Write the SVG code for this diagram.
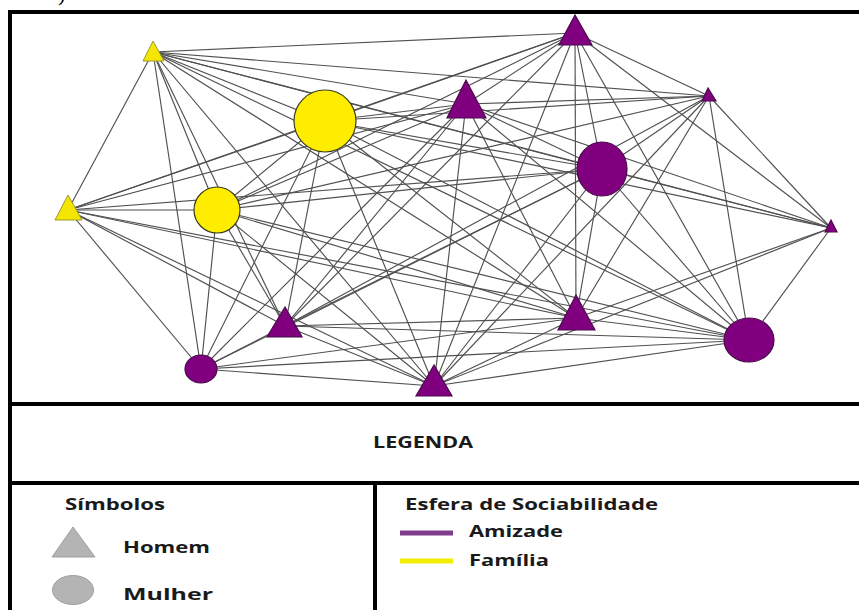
<svg xmlns="http://www.w3.org/2000/svg" width="859" height="610" viewBox="0 0 859 610">
<style>
.e{stroke:#505050;stroke-width:1.15;fill:none}
.y{fill:#ffed00;stroke:#3a3a20;stroke-width:1.2}
.yt{fill:#f4e600;stroke:#9a9a30;stroke-width:1}
.p{fill:#800080;stroke:#4a0a4a;stroke-width:1.2}
.fr{stroke:#000;stroke-width:4;fill:none}
.t{font-family:"Open Sans","Liberation Sans",sans-serif;font-weight:bold;font-size:16.5px;fill:#1a1a1a}
</style>
<rect width="859" height="610" fill="#fff"/>
<text x="58" y="1" font-family="Liberation Serif,serif" font-size="22" fill="#000">)</text>
<g id="frame">
<line class="fr" x1="10" y1="12" x2="859" y2="12"/>
<line class="fr" x1="10" y1="10" x2="10" y2="610"/>
<line class="fr" x1="8" y1="404" x2="859" y2="404"/>
<line class="fr" x1="8" y1="483" x2="859" y2="483"/>
<line class="fr" x1="375" y1="483" x2="375" y2="610"/>
</g>
<g id="connectors">
<line class="e" x1="153" y1="52" x2="68" y2="210"/>
<line class="e" x1="153" y1="52" x2="325" y2="121"/>
<line class="e" x1="153" y1="52" x2="217" y2="210"/>
<line class="e" x1="153" y1="52" x2="575" y2="33"/>
<line class="e" x1="153" y1="52" x2="466" y2="104"/>
<line class="e" x1="153" y1="52" x2="709" y2="96"/>
<line class="e" x1="153" y1="52" x2="602" y2="169"/>
<line class="e" x1="153" y1="52" x2="831" y2="228"/>
<line class="e" x1="153" y1="52" x2="285" y2="326"/>
<line class="e" x1="153" y1="52" x2="576" y2="318"/>
<line class="e" x1="153" y1="52" x2="749" y2="340"/>
<line class="e" x1="153" y1="52" x2="201" y2="369"/>
<line class="e" x1="153" y1="52" x2="434" y2="386"/>
<line class="e" x1="68" y1="210" x2="325" y2="121"/>
<line class="e" x1="68" y1="210" x2="217" y2="210"/>
<line class="e" x1="68" y1="210" x2="575" y2="33"/>
<line class="e" x1="68" y1="210" x2="466" y2="104"/>
<line class="e" x1="68" y1="210" x2="602" y2="169"/>
<line class="e" x1="68" y1="210" x2="285" y2="326"/>
<line class="e" x1="68" y1="210" x2="576" y2="318"/>
<line class="e" x1="68" y1="210" x2="749" y2="340"/>
<line class="e" x1="68" y1="210" x2="201" y2="369"/>
<line class="e" x1="68" y1="210" x2="434" y2="386"/>
<line class="e" x1="325" y1="121" x2="217" y2="210"/>
<line class="e" x1="325" y1="121" x2="575" y2="33"/>
<line class="e" x1="325" y1="121" x2="466" y2="104"/>
<line class="e" x1="325" y1="121" x2="709" y2="96"/>
<line class="e" x1="325" y1="121" x2="602" y2="169"/>
<line class="e" x1="325" y1="121" x2="831" y2="228"/>
<line class="e" x1="325" y1="121" x2="285" y2="326"/>
<line class="e" x1="325" y1="121" x2="576" y2="318"/>
<line class="e" x1="325" y1="121" x2="749" y2="340"/>
<line class="e" x1="325" y1="121" x2="201" y2="369"/>
<line class="e" x1="325" y1="121" x2="434" y2="386"/>
<line class="e" x1="217" y1="210" x2="575" y2="33"/>
<line class="e" x1="217" y1="210" x2="466" y2="104"/>
<line class="e" x1="217" y1="210" x2="709" y2="96"/>
<line class="e" x1="217" y1="210" x2="602" y2="169"/>
<line class="e" x1="217" y1="210" x2="285" y2="326"/>
<line class="e" x1="217" y1="210" x2="576" y2="318"/>
<line class="e" x1="217" y1="210" x2="749" y2="340"/>
<line class="e" x1="217" y1="210" x2="201" y2="369"/>
<line class="e" x1="217" y1="210" x2="434" y2="386"/>
<line class="e" x1="575" y1="33" x2="466" y2="104"/>
<line class="e" x1="575" y1="33" x2="709" y2="96"/>
<line class="e" x1="575" y1="33" x2="602" y2="169"/>
<line class="e" x1="575" y1="33" x2="831" y2="228"/>
<line class="e" x1="575" y1="33" x2="285" y2="326"/>
<line class="e" x1="575" y1="33" x2="576" y2="318"/>
<line class="e" x1="575" y1="33" x2="749" y2="340"/>
<line class="e" x1="575" y1="33" x2="434" y2="386"/>
<line class="e" x1="466" y1="104" x2="709" y2="96"/>
<line class="e" x1="466" y1="104" x2="602" y2="169"/>
<line class="e" x1="466" y1="104" x2="831" y2="228"/>
<line class="e" x1="466" y1="104" x2="285" y2="326"/>
<line class="e" x1="466" y1="104" x2="576" y2="318"/>
<line class="e" x1="466" y1="104" x2="749" y2="340"/>
<line class="e" x1="466" y1="104" x2="201" y2="369"/>
<line class="e" x1="466" y1="104" x2="434" y2="386"/>
<line class="e" x1="709" y1="96" x2="602" y2="169"/>
<line class="e" x1="709" y1="96" x2="831" y2="228"/>
<line class="e" x1="709" y1="96" x2="285" y2="326"/>
<line class="e" x1="709" y1="96" x2="576" y2="318"/>
<line class="e" x1="709" y1="96" x2="749" y2="340"/>
<line class="e" x1="709" y1="96" x2="434" y2="386"/>
<line class="e" x1="602" y1="169" x2="831" y2="228"/>
<line class="e" x1="602" y1="169" x2="285" y2="326"/>
<line class="e" x1="602" y1="169" x2="576" y2="318"/>
<line class="e" x1="602" y1="169" x2="749" y2="340"/>
<line class="e" x1="602" y1="169" x2="201" y2="369"/>
<line class="e" x1="602" y1="169" x2="434" y2="386"/>
<line class="e" x1="831" y1="228" x2="576" y2="318"/>
<line class="e" x1="831" y1="228" x2="749" y2="340"/>
<line class="e" x1="831" y1="228" x2="434" y2="386"/>
<line class="e" x1="285" y1="326" x2="576" y2="318"/>
<line class="e" x1="285" y1="326" x2="749" y2="340"/>
<line class="e" x1="285" y1="326" x2="201" y2="369"/>
<line class="e" x1="285" y1="326" x2="434" y2="386"/>
<line class="e" x1="576" y1="318" x2="749" y2="340"/>
<line class="e" x1="576" y1="318" x2="201" y2="369"/>
<line class="e" x1="576" y1="318" x2="434" y2="386"/>
<line class="e" x1="749" y1="340" x2="201" y2="369"/>
<line class="e" x1="749" y1="340" x2="434" y2="386"/>
<line class="e" x1="201" y1="369" x2="434" y2="386"/>
</g>
<g id="nA"><polygon class="yt" points="153,41 143,61 164,61"/></g>
<g id="nB"><polygon class="yt" points="68,195 55,220 82,220"/></g>
<g id="nC"><circle class="y" cx="325" cy="121" r="31"/></g>
<g id="nD"><circle class="y" cx="217" cy="210" r="23"/></g>
<g id="nE"><polygon class="p" points="575,15 559,45 592,45"/></g>
<g id="nF"><polygon class="p" points="466,80 447,118 486,118"/></g>
<g id="nG"><polygon class="p" points="708,88 702,101 716,101"/></g>
<g id="nH"><ellipse class="p" cx="602" cy="169" rx="25" ry="27"/></g>
<g id="nI"><polygon class="p" points="831,220 825,232 837,232"/></g>
<g id="nJ"><polygon class="p" points="285,307 267,337 302,337"/></g>
<g id="nK"><polygon class="p" points="576,295 558,330 595,330"/></g>
<g id="nL"><ellipse class="p" cx="749" cy="340" rx="25" ry="22"/></g>
<g id="nM"><ellipse class="p" cx="201" cy="369" rx="16" ry="14"/></g>
<g id="nN"><polygon class="p" points="434,365 416,396 452,396"/></g>
<g id="legend">
<text class="t" x="373" y="448" textLength="100" lengthAdjust="spacingAndGlyphs">LEGENDA</text>
<text class="t" x="65" y="510" textLength="100" lengthAdjust="spacingAndGlyphs">Símbolos</text>
<polygon points="73,527 52,557 95,557" fill="#b4b4b4" stroke="#a0a0a0" stroke-width="1"/>
<text class="t" x="123" y="553" textLength="87" lengthAdjust="spacingAndGlyphs">Homem</text>
<ellipse cx="73" cy="590" rx="20.5" ry="14.5" fill="#b4b4b4" stroke="#a0a0a0" stroke-width="1"/>
<text class="t" x="123" y="600" textLength="90" lengthAdjust="spacingAndGlyphs">Mulher</text>
<text class="t" x="405" y="510" textLength="253" lengthAdjust="spacingAndGlyphs">Esfera de Sociabilidade</text>
<line x1="400" y1="533" x2="453" y2="533" stroke="#7f3d8c" stroke-width="5"/>
<text class="t" x="469" y="537" textLength="94" lengthAdjust="spacingAndGlyphs">Amizade</text>
<line x1="400" y1="561" x2="453" y2="561" stroke="#f2ee00" stroke-width="5"/>
<text class="t" x="469" y="566" textLength="80" lengthAdjust="spacingAndGlyphs">Família</text>
</g>
</svg>
